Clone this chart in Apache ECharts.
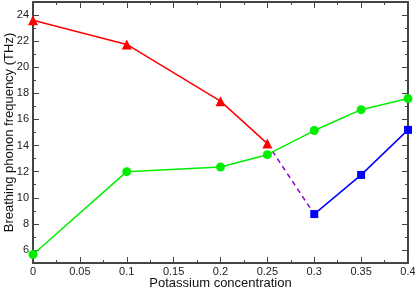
<!DOCTYPE html>
<html><head><meta charset="utf-8">
<script src="https://cdn.jsdelivr.net/npm/echarts@6/dist/echarts.min.js"></script>
<style>html,body{margin:0;padding:0;background:#fff}#c{width:415px;height:290px}</style>
</head><body><div id="c"></div>
<script>
const redX = [0, 0.1, 0.2, 0.25];
const redY = [23.6, 21.75, 17.4, 14.15];
const greenX = [0, 0.1, 0.2, 0.25, 0.3, 0.35, 0.4];
const greenY = [5.65, 12.0, 12.35, 13.3, 15.15, 16.75, 17.6];
const blueX = [0.3, 0.35, 0.4];
const blueY = [8.75, 11.75, 15.2];
const dashX = [0.25, 0.3];
const dashY = [14.15, 8.75];
const yMajor = [6, 8, 10, 12, 14, 16, 18, 20, 22, 24];
const yMinor = [5, 7, 9, 11, 13, 15, 17, 19, 21, 23, 25];

const zip = (a, b) => a.map((v, i) => [v, b[i]]);
const font = 'Liberation Sans, Arial, sans-serif';
const axisCol = '#444';

const chart = echarts.init(document.getElementById('c'));
function yAx(pos, major, labels) {
  return {
    type: 'value', position: pos, min: 5, max: 25, interval: 1,
    splitLine: { show: false },
    axisLine: { show: major, lineStyle: { color: axisCol, width: 2 } },
    axisTick: { show: true, inside: true, length: major ? 6 : 3,
      customValues: major ? yMajor : yMinor, lineStyle: { color: axisCol, width: 1 } },
    axisLabel: { show: labels, customValues: yMajor, color: '#222', fontSize: 11, fontFamily: font, margin: 4 },
    name: labels ? 'Breathing phonon frequency (THz)' : '',
    nameLocation: 'middle', nameGap: 17, nameMoveOverlap: false,
    nameTextStyle: { fontSize: 13, fontFamily: font, color: '#111' }
  };
}
function xAx(pos, labels) {
  return {
    type: 'value', position: pos, min: 0, max: 0.4, interval: 0.05,
    splitLine: { show: false },
    axisLine: { show: true, lineStyle: { color: axisCol, width: 2 } },
    axisTick: { show: true, inside: true, length: 6, lineStyle: { color: axisCol, width: 1 } },
    minorTick: { show: true, splitNumber: 2, length: 3, lineStyle: { color: axisCol, width: 1 } },
    minorSplitLine: { show: false },
    axisLabel: { show: labels, color: '#222', fontSize: 11, fontFamily: font, margin: 3,
      formatter: v => String(parseFloat(v.toFixed(3))) },
    name: labels ? 'Potassium concentration' : '',
    nameLocation: 'middle', nameGap: 14, nameMoveOverlap: false,
    nameTextStyle: { fontSize: 13, fontFamily: font, color: '#111' }
  };
}
chart.setOption({
  animation: false,
  grid: { left: 33, right: 7, top: 2, bottom: 27, containLabel: false, outerBoundsMode: 'none' },
  xAxis: [xAx('bottom', true), xAx('top', false)],
  yAxis: [yAx('left', true, true), yAx('left', false, false), yAx('right', true, false), yAx('right', false, false)],
  series: [
    { type: 'line', data: zip(dashX, dashY), symbol: 'none', lineStyle: { color: '#9400d3', width: 1.5, type: [5, 4] } },
    { type: 'line', data: zip(redX, redY), symbol: 'triangle', symbolSize: 10, itemStyle: { color: '#ff0000' }, lineStyle: { color: '#ff0000', width: 1.5 } },
    { type: 'line', data: zip(greenX, greenY), symbol: 'circle', symbolSize: 9, itemStyle: { color: '#00ee00' }, lineStyle: { color: '#00ee00', width: 1.5 } },
    { type: 'line', data: zip(blueX, blueY), symbol: 'rect', symbolSize: 8, itemStyle: { color: '#0000ff' }, lineStyle: { color: '#0000ff', width: 1.5 } }
  ]
});
</script></body></html>
